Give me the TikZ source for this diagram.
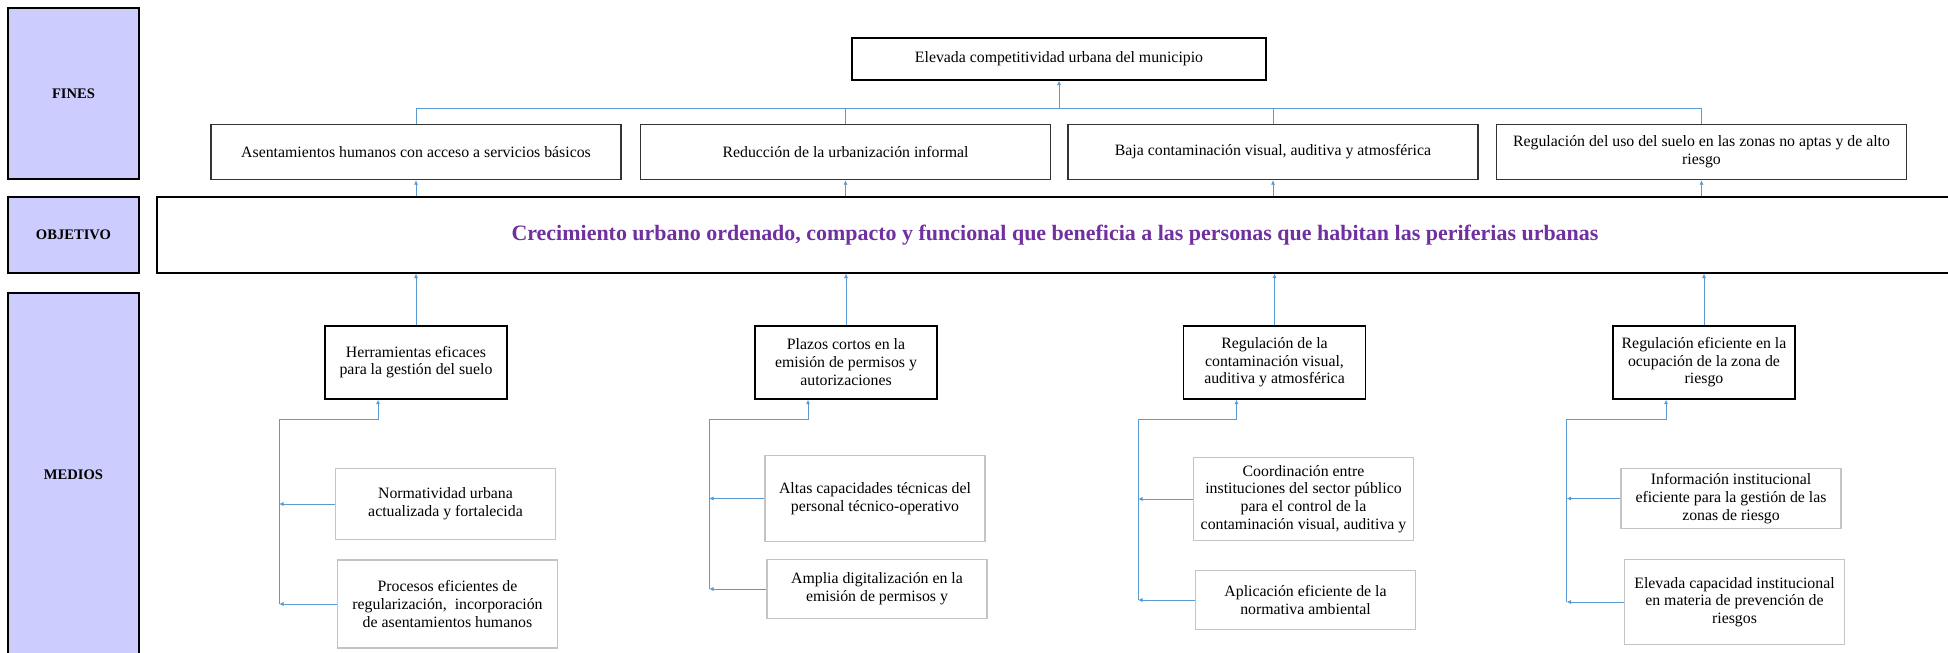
\documentclass[tikz,border=0pt]{standalone}
\usepackage{fontspec}
\setmainfont{Liberation Serif}
\usetikzlibrary{arrows.meta}

\definecolor{lavanda}{HTML}{CCCCFF}
\definecolor{azul}{HTML}{5B9BD5}
\definecolor{morado}{HTML}{7030A0}
\definecolor{gris}{HTML}{C4C4C4}

\tikzset{
	etiqueta/.style={draw, fill=lavanda, line width=0.6pt, minimum width=2.62cm, inner sep=0pt,
		font=\bfseries\fontsize{8.3}{9}\selectfont},
	fin/.style={draw=black!80, line width=0.7pt, minimum width=8.2cm, minimum height=1.1cm,
		inner sep=0pt, align=center},
	medio/.style={draw, line width=1pt, minimum width=3.64cm, minimum height=1.46cm,
		inner sep=0pt, align=center},
	submedio/.style={draw=gris, line width=0.6pt, minimum width=4.4cm, inner sep=0pt, align=center},
	linea/.style={draw=azul, line width=0.5pt},
	enlace/.style={linea, -{Latex[length=2.6pt,width=2.4pt]}},
}

\begin{document}
\begin{tikzpicture}[font=\fontsize{9}{10.1}\selectfont]
		\useasboundingbox (0,0) rectangle (38.96,-13.04);
		
		% Row labels
		\node[etiqueta, minimum height=3.42cm] (fines) at (1.47,-1.87) {FINES};
		\node[etiqueta, minimum height=1.52cm] (objetivo) at (1.47,-4.70) {OBJETIVO};
		\node[etiqueta, minimum height=7.28cm] (medios) at (1.47,-9.50) {MEDIOS};
		
		% Objective
		\node[draw, line width=0.6pt, minimum width=35.92cm, minimum height=1.52cm, inner sep=0pt,
		text=morado, font=\bfseries\fontsize{12.5}{15}\selectfont] (obj) at (21.10,-4.70)
		{Crecimiento urbano ordenado, compacto y funcional que beneficia a las personas que habitan las periferias urbanas};
		
		% Ends
		\node[draw, line width=0.6pt, minimum width=8.28cm, minimum height=0.84cm, inner sep=0pt] (top) at (21.18,-1.18)
		{Elevada competitividad urbana del municipio};
		\node[fin] (f1) at (8.32,-3.04) {Asentamientos humanos con acceso a servicios básicos};
		\node[fin] (f2) at (16.91,-3.04) {Reducción de la urbanización informal};
		\node[fin] (f3) at (25.46,-3.04) {Baja contaminación visual, auditiva y atmosférica};
		\node[fin] (f4) at (34.03,-3.04) {Regulación del uso del suelo en las zonas no aptas y de alto\\riesgo};
		
		\coordinate (bus) at (0,-2.16);
		\draw[linea] (f1.north) -- (f1.north |- bus) -- (f4.north |- bus) -- (f4.north);
		\draw[linea] (f2.north) -- (f2.north |- bus);
		\draw[linea] (f3.north) -- (f3.north |- bus);
		\draw[enlace] (top.south |- bus) -- (top.south);
		
		% Means
		\node[medio] (m1) at (8.32,-7.245) {Herramientas eficaces\\para la gestión del suelo};
		\node[medio] (m2) at (16.92,-7.245) {Plazos cortos en la\\emisión de permisos y\\autorizaciones};
		\node[medio] (m3) at (25.49,-7.245) {Regulación de la\\contaminación visual,\\auditiva y atmosférica};
		\node[medio] (m4) at (34.08,-7.245) {Regulación eficiente en la\\ocupación de la zona de\\riesgo};
		
		\foreach \X in {1,2,3,4} {
			\draw[enlace] (f\X.south |- obj.north) -- (f\X.south);
			\draw[enlace] (m\X.north) -- (m\X.north |- obj.south);
		}
		
		% Sub means
		\node[submedio, minimum height=1.42cm] (sa1) at (8.91,-10.08) {Normatividad urbana\\actualizada y fortalecida};
		\node[submedio, minimum height=1.76cm] (sb1) at (8.95,-12.08) {Procesos eficientes de\\regularización,~ incorporación\\de asentamientos humanos};
		\node[submedio, minimum height=1.73cm] (sa2) at (17.50,-9.97) {Altas capacidades técnicas del\\personal técnico-operativo};
		\node[submedio, minimum height=1.18cm] (sb2) at (17.54,-11.78) {Amplia digitalización en la\\emisión de permisos y};
		\node[submedio, minimum height=1.67cm] (sa3) at (26.07,-9.98) {Coordinación entre\\instituciones del sector público\\para el control de la\\contaminación visual, auditiva y};
		\node[submedio, minimum height=1.19cm] (sb3) at (26.11,-12.00) {Aplicación eficiente de la\\normativa ambiental};
		\node[submedio, minimum height=1.19cm] (sa4) at (34.62,-9.97) {Información institucional\\eficiente para la gestión de las\\zonas de riesgo};
		\node[submedio, minimum height=1.70cm] (sb4) at (34.69,-12.04) {Elevada capacidad institucional\\en materia de prevención de\\riesgos};
		
		% Add trunks from sub means to means
		\foreach \X/\T in {1/5.58, 2/14.18, 3/22.76, 4/31.33} {
			\coordinate (t\X) at (\T,-8.38);
			\draw[enlace] (t\X |- sb\X.west) -- (t\X) -| ([xshift=-0.76cm]m\X.south);
			\draw[enlace] (sa\X.west) -- (sa\X.west -| t\X);
			\draw[enlace] (sb\X.west) -- (sb\X.west -| t\X);
		}
		
	\end{tikzpicture}
\end{document}
